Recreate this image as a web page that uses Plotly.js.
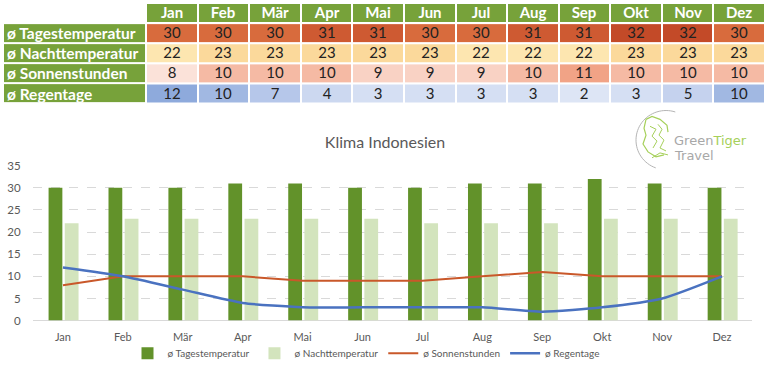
<!DOCTYPE html>
<html>
<head>
<meta charset="utf-8">
<script src="https://cdn.plot.ly/plotly-3.0.1.min.js"></script>
<style>html,body{margin:0;padding:0;background:#fff;overflow:hidden;}#chart{width:768px;height:371px;}</style>
</head>
<body>
<div id="chart"></div>
<script>
// ---- data ----
const months = ['Jan','Feb','Mär','Apr','Mai','Jun','Jul','Aug','Sep','Okt','Nov','Dez'];
const rowLabels = ['ø Tagestemperatur','ø Nachttemperatur','ø Sonnenstunden','ø Regentage'];
const tagTable = [30,30,30,31,31,30,30,31,31,32,32,30];
const tagChart = [30,30,30,31,31,30,30,31,31,32,31,30];
const nacht = [22,23,23,23,23,23,22,22,22,23,23,23];
const sonne = [8,10,10,10,9,9,9,10,11,10,10,10];
const regen = [12,10,7,4,3,3,3,3,2,3,5,10];
const chartTitle = 'Klima Indonesien';

// ---- layout helpers ----
const W = 768, H = 371, M = 3;
const px = x => (x - M) / (W - 2*M);
const py = y => (H - M - y) / (H - 2*M);
const green = '#77a23a';
const labelColW = 143, monthColW = (762 - 143) / 12;
const monthEdges = [labelColW];
for (let i = 0; i < months.length; i++) monthEdges.push(labelColW + monthColW * (i + 1));

const greenScale = [[0, green], [1, green]];
const tagScale = [[0, '#d86b3d'], [0.5, '#ce5a32'], [1, '#c34a28']];
const nachtScale = [[0, '#fde6b0'], [1, '#fbd99b']];
const sonneScale = [[0, '#fbe2d9'], [1/3, '#f9d2c4'], [2/3, '#f5baa4'], [1, '#f1a386']];
const regenScale = [[0, '#dde5f5'], [0.1, '#d5dff3'], [0.2, '#ccd8f0'], [0.3, '#c5d2ee'],
                    [0.5, '#b6c7ea'], [0.8, '#a1b8e2'], [1, '#8eaadc']];

function rowTrace(vals, r, scale, zmin, zmax){
  return {type: 'heatmap', xaxis: 'x2', yaxis: 'y2', x: monthEdges, y: [r, r + 1],
    z: [vals], text: [vals.map(String)], texttemplate: '%{text}',
    textfont: {family: 'Lato, sans-serif', size: 15, color: '#222222'},
    colorscale: scale, zmin: zmin, zmax: zmax, showscale: false, xgap: 2, ygap: 2,
    hoverinfo: 'skip', showlegend: false};
}

const traces = [
  {type: 'heatmap', xaxis: 'x2', yaxis: 'y2', x: monthEdges, y: [0, 1],
   z: [months.map(() => 1)], text: [months], texttemplate: '%{text}',
   textfont: {family: 'Lato, sans-serif', size: 15, color: '#ffffff', weight: 'bold'},
   colorscale: greenScale, zmin: 0, zmax: 1, showscale: false, xgap: 2, ygap: 2,
   hoverinfo: 'skip', showlegend: false},
  {type: 'heatmap', xaxis: 'x2', yaxis: 'y2', x: [0, labelColW], y: [1, 2, 3, 4, 5],
   z: rowLabels.map(() => [1]),
   colorscale: greenScale, zmin: 0, zmax: 1, showscale: false, xgap: 2, ygap: 2,
   hoverinfo: 'skip', showlegend: false},
  rowTrace(tagTable, 1, tagScale, 30, 32),
  rowTrace(nacht, 2, nachtScale, 22, 23),
  rowTrace(sonne, 3, sonneScale, 8, 11),
  rowTrace(regen, 4, regenScale, 2, 12),
  {type: 'bar', name: 'ø Tagestemperatur', x: months, y: tagChart,
   marker: {color: '#62922a'}, width: 0.23, offset: -0.24, hoverinfo: 'y'},
  {type: 'bar', name: 'ø Nachttemperatur', x: months, y: nacht,
   marker: {color: '#d3e4bd'}, width: 0.23, offset: 0.03, hoverinfo: 'y'},
  {type: 'scatter', mode: 'lines', name: 'ø Sonnenstunden', x: months, y: sonne,
   line: {color: '#c9582a', width: 2}},
  {type: 'scatter', mode: 'lines', name: 'ø Regentage', x: months, y: regen,
   line: {color: '#4a72c0', width: 2.5, shape: 'spline', smoothing: 0.6}}
];

// row label annotations (left aligned, in the table's label column)
const labelAnns = rowLabels.map((l, i) => ({
  xref: 'x2', yref: 'y2', x: 2, y: i + 1.5, xanchor: 'left', yanchor: 'middle',
  text: l, showarrow: false,
  font: {family: 'Lato, sans-serif', size: 15.5, color: '#ffffff', weight: 'bold'}
}));

// logo decoration (arc + tiger strokes)
function arcPath(cx, cy, r, a0, a1, n){
  let d = '';
  for (let k = 0; k <= n; k++){
    const a = (a0 + (a1 - a0) * k / n) * Math.PI / 180;
    const x = px(cx + r*Math.cos(a)), y = py(cy + r*Math.sin(a));
    d += (k ? ' L' : 'M') + x.toFixed(5) + ',' + y.toFixed(5);
  }
  return d;
}
function strokePath(pts){
  return pts.map((p,k) => (k ? ' L' : 'M') + px(p[0]).toFixed(5) + ',' + py(p[1]).toFixed(5)).join('');
}
const lg = '#a6d05a';
const shapes = [
  {type: 'path', xref: 'paper', yref: 'paper', path: arcPath(666, 142, 30, -72, -250, 40),
   line: {color: '#b5b5b5', width: 1}},
  {type: 'path', xref: 'paper', yref: 'paper', path: strokePath([[646,121],[652,118],[660,121],[667,127],[668,134]]),
   line: {color: lg, width: 1.2}},
  {type: 'path', xref: 'paper', yref: 'paper', path: strokePath([[646,121],[644,130],[646,137],[643,146],[648,154],[656,159],[664,157]]),
   line: {color: lg, width: 1.2}},
  {type: 'path', xref: 'paper', yref: 'paper', path: strokePath([[650,128],[656,131],[652,138],[657,143],[653,150]]),
   line: {color: lg, width: 1}},
  {type: 'path', xref: 'paper', yref: 'paper', path: strokePath([[658,126],[662,131],[659,137],[664,142],[660,150],[666,153]]),
   line: {color: lg, width: 1}},
  {type: 'path', xref: 'paper', yref: 'paper', path: strokePath([[652,160],[660,155],[668,157]]),
   line: {color: lg, width: 1}}
];

const layout = {
  width: W, height: H,
  margin: {l: M, r: M, t: M, b: M, pad: 0},
  paper_bgcolor: '#ffffff', plot_bgcolor: '#ffffff',
  font: {family: 'Lato, sans-serif', color: '#595959'},
  title: {text: chartTitle, x: 385/768, xref: 'container', xanchor: 'center',
          y: 1 - 142/371, yref: 'container', yanchor: 'middle',
          font: {family: 'Lato, sans-serif', size: 16, color: '#595959'}},
  barmode: 'overlay',
  showlegend: true,
  legend: {orientation: 'h', x: px(366), xanchor: 'center', y: py(358), yanchor: 'middle',
           bgcolor: 'rgba(0,0,0,0)',
           font: {size: 10, color: '#595959'}, itemwidth: 30, tracegroupgap: 0,
           traceorder: 'normal'},
  xaxis: {domain: [px(33), px(752)], range: [-0.5, 11.5], type: 'category',
          showgrid: false, showline: false, zeroline: false,
          ticks: 'outside', ticklen: 6, tickcolor: 'rgba(0,0,0,0)',
          tickfont: {size: 11, color: '#595959'}, fixedrange: true},
  yaxis: {domain: [py(325), py(168)], range: [0, 35], dtick: 5,
          showgrid: true, gridcolor: '#d9d9d9', griddash: 'dash', gridwidth: 1,
          zeroline: true, zerolinecolor: '#d9d9d9', zerolinewidth: 1.5,
          showline: false, ticks: 'outside', ticklen: 9, tickcolor: 'rgba(0,0,0,0)',
          tickfont: {size: 11.5, color: '#595959'}, fixedrange: true},
  xaxis2: {domain: [0, 1], range: [0, 762], anchor: 'y2', visible: false, fixedrange: true},
  yaxis2: {domain: [py(105), py(3)], range: [5, 0], anchor: 'x2', visible: false, fixedrange: true},
  shapes: shapes,
  annotations: labelAnns.concat([
    {xref: 'paper', yref: 'paper', x: px(672), y: py(142), xanchor: 'left', yanchor: 'middle',
     text: '<span style="color:#a8a8a8">Green</span><span style="color:#a6d05a">Tiger</span>',
     showarrow: false, font: {family: 'DejaVu Sans, sans-serif', size: 13}},
    {xref: 'paper', yref: 'paper', x: px(672), y: py(158), xanchor: 'left', yanchor: 'middle',
     text: 'Travel', showarrow: false, font: {family: 'DejaVu Sans, sans-serif', size: 13, color: '#a8a8a8'}}
  ])
};

Plotly.newPlot('chart', traces, layout, {displayModeBar: false, staticPlot: true});
</script>
</body>
</html>
